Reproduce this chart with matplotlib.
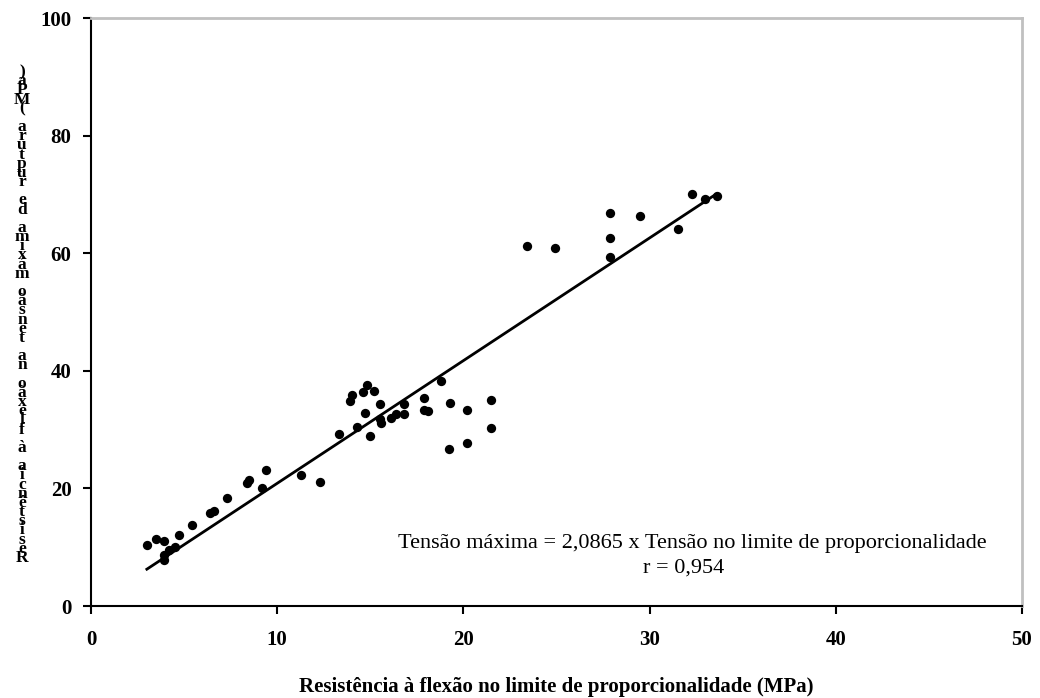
import matplotlib
matplotlib.use("Agg")
import matplotlib.pyplot as plt
import numpy as np

x_vals = [3.0, 3.5, 3.9, 3.9, 3.9, 4.2, 4.5, 4.7, 5.4, 6.4, 6.6, 7.3, 8.4, 8.5, 9.2, 9.4,
          11.3, 12.3, 13.3, 13.9, 14.0, 14.3, 14.6, 14.7, 14.8, 15.0, 15.2, 15.5, 15.5,
          15.6, 16.1, 16.4, 16.8, 16.8, 17.9, 17.9, 18.1, 18.8, 19.2, 19.3, 20.2, 20.2,
          21.5, 21.5, 23.4, 24.9, 27.9, 27.9, 27.9, 29.5, 31.5, 32.3, 33.0, 33.6]
y_vals = [10.3, 11.4, 11.1, 8.7, 7.9, 9.6, 10.1, 12.0, 13.7, 15.8, 16.2, 18.3, 20.9, 21.4,
          20.0, 23.1, 22.2, 21.1, 29.3, 34.9, 35.9, 30.5, 36.4, 32.8, 37.6, 28.9, 36.5,
          34.4, 31.8, 31.2, 32.0, 32.6, 34.4, 32.6, 35.4, 33.3, 33.2, 38.3, 26.7, 34.5,
          27.8, 33.4, 35.0, 30.2, 61.3, 60.9, 66.8, 62.6, 59.3, 66.4, 64.2, 70.0, 69.3, 69.8]
slope = 2.0865
r_value = "0,954"
x_ticks = [0, 10, 20, 30, 40, 50]
y_ticks = [0, 20, 40, 60, 80, 100]
x_label = "Resistência à flexão no limite de proporcionalidade (MPa)"
y_label = "Resistência à flexão na tensão máxima de ruptura (MPa)"
eq_text = "Tensão máxima = 2,0865 x Tensão no limite de proporcionalidade"

plt.rcParams['font.family'] = ['Liberation Serif', 'DejaVu Serif']

fig = plt.figure(figsize=(10.4, 6.98), dpi=100)
ax = fig.add_axes([91/1040, 1-606/698, (1022-91)/1040, (606-18)/698])

ax.scatter(x_vals, y_vals, s=45, color='black', zorder=3, linewidths=0)
xl = np.array([min(x_vals), max(x_vals)])
ax.plot(xl, slope*xl, color='black', lw=2.0, zorder=2)

ax.set_xlim(0, 50)
ax.set_ylim(0, 100)
ax.set_xticks(x_ticks)
ax.set_yticks(y_ticks)
ax.set_xticklabels([str(t) for t in x_ticks], fontsize=15, fontweight='bold')
ax.set_yticklabels([str(t) for t in y_ticks], fontsize=15, fontweight='bold')
ax.tick_params(axis='both', direction='out', length=6, width=1.5, color='black')
ax.tick_params(axis='x', pad=11)
ax.tick_params(axis='y', pad=8)

for s in ['left', 'bottom']:
    ax.spines[s].set_color('black')
    ax.spines[s].set_linewidth(1.5)
for s in ['top', 'right']:
    ax.spines[s].set_color('#c0c0c0')
    ax.spines[s].set_linewidth(2.0)

ax.set_xlabel(x_label, fontsize=15, fontweight='bold', labelpad=20)

ax.text(0.33, 0.107, eq_text, transform=ax.transAxes, fontsize=16, ha='left', va='center')
ax.text(0.637, 0.065, "r = " + r_value, transform=ax.transAxes, fontsize=16, ha='center', va='center')

# stacked vertical y label (letters upright, reading bottom-up)
chars = list(y_label)
top_px, bot_px = 72, 558
n = len(chars)
for i, ch in enumerate(chars):
    py = bot_px - (bot_px - top_px) * i / (n - 1)
    fig.text(22/1040, 1 - py/698, ch, fontsize=12.5, fontweight='bold', ha='center', va='center')

fig.savefig("out.png", dpi=100)
